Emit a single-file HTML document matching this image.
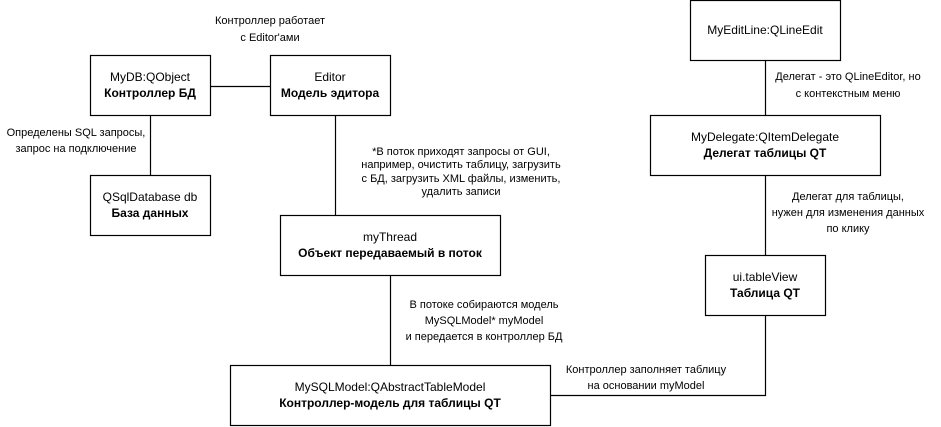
<!DOCTYPE html>
<html><head><meta charset="utf-8"><style>
html,body{margin:0;padding:0;background:#fff;}
svg{display:block;}
text{font-family:"Liberation Sans",Arial,sans-serif;fill:#000;}
.t{font-size:12px;}
.b{font-size:12px;font-weight:bold;}
.l{font-size:11px;}
</style></head><body>
<svg width="941" height="427" viewBox="0 0 941 427" xmlns="http://www.w3.org/2000/svg">
<g fill="none" stroke="#000" stroke-width="1.2">
<rect x="90.5" y="55.5" width="120" height="60"/>
<rect x="270.5" y="55.5" width="120" height="60"/>
<rect x="90.5" y="175.5" width="120" height="60"/>
<rect x="280.5" y="215.5" width="220" height="60"/>
<rect x="230.5" y="365.5" width="320" height="60"/>
<rect x="690.5" y="0.5" width="150" height="60"/>
<rect x="650.5" y="115.5" width="230" height="60"/>
<rect x="705.5" y="255.5" width="120" height="60"/>
<path d="M210.5 86.5H270.5"/>
<path d="M150.5 115.5V175.5"/>
<path d="M335.5 115.5V215.5"/>
<path d="M390.5 275.5V365.5"/>
<path d="M765.5 60.5V115.5"/>
<path d="M765.5 175.5V255.5"/>
<path d="M765.5 315.5V395.5H550.5"/>
</g>
<g text-anchor="middle">
<text class="t" x="150" y="81">MyDB:QObject</text>
<text class="b" x="150" y="97">Контроллер БД</text>
<text class="t" x="330" y="81">Editor</text>
<text class="b" x="330" y="97">Модель эдитора</text>
<text class="t" x="150" y="201">QSqlDatabase db</text>
<text class="b" x="150" y="217">База данных</text>
<text class="t" x="390" y="241">myThread</text>
<text class="b" x="390" y="257">Объект передаваемый в поток</text>
<text class="t" x="390" y="391">MySQLModel:QAbstractTableModel</text>
<text class="b" x="390" y="407">Контроллер-модель для таблицы QT</text>
<text class="t" x="765" y="34">MyEditLine:QLineEdit</text>
<text class="t" x="765" y="141">MyDelegate:QItemDelegate</text>
<text class="b" x="765" y="157">Делегат таблицы QT</text>
<text class="t" x="765" y="281">ui.tableView</text>
<text class="b" x="765" y="297">Таблица QT</text>

<text class="l" x="270" y="24">Контроллер работает</text>
<text class="l" x="270" y="41">с Editor'ами</text>
<text class="l" x="76" y="136">Определены SQL запросы,</text>
<text class="l" x="76" y="152">запрос на подключение</text>
<text class="l" x="461" y="155">*В поток приходят запросы от GUI,</text>
<text class="l" x="461" y="168">например, очистить таблицу, загрузить</text>
<text class="l" x="461" y="182">с БД, загрузить XML файлы, изменить,</text>
<text class="l" x="461" y="195">удалить записи</text>
<text class="l" x="484" y="308">В потоке собираются модель</text>
<text class="l" x="484" y="324">MySQLModel* myModel</text>
<text class="l" x="484" y="340">и передается в контроллер БД</text>
<text class="l" x="848" y="80">Делегат - это QLineEditor, но</text>
<text class="l" x="848" y="97">с контекстным меню</text>
<text class="l" x="848" y="200">Делегат для таблицы,</text>
<text class="l" x="848" y="216">нужен для изменения данных</text>
<text class="l" x="848" y="232">по клику</text>
<text class="l" x="646" y="373">Контроллер заполняет таблицу</text>
<text class="l" x="646" y="389">на основании myModel</text>
</g>
</svg>
</body></html>
